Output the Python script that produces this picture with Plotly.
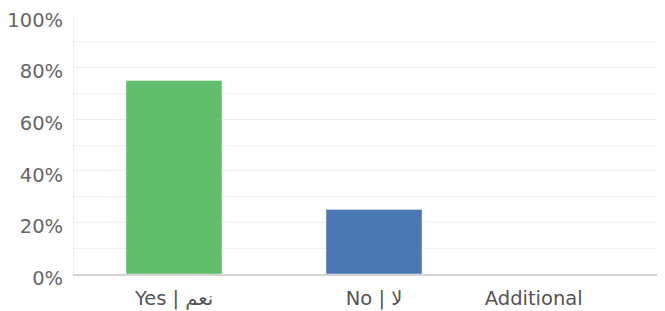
import plotly.graph_objects as go

categories = ["Yes | نعم", "No | لا", "Additional" + "\u00a0" * 13]
values = [75, 25, 0]
bar_colors = ["#62be6c", "#4b78b4", "#4b78b4"]
y_ticks = [0, 20, 40, 60, 80, 100]
y_tick_labels = ["0%", "20%", "40%", "60%", "80%", "100%"]

fig = go.Figure(
    go.Bar(
        x=categories,
        y=values,
        marker=dict(color=bar_colors, line=dict(color="rgba(255,255,255,0.4)", width=1)),
        width=0.48,
    )
)

# page body adds an 8px offset, so figure is sized to fit the 665x311 window
fig.update_layout(
    width=657,
    height=303,
    margin=dict(l=66, r=3, t=8, b=37),
    paper_bgcolor="white",
    plot_bgcolor="white",
    showlegend=False,
    font=dict(family="DejaVu Sans, sans-serif", size=19.5, color="#666666"),
)
fig.update_yaxes(
    range=[0, 100],
    tickvals=y_ticks,
    ticktext=y_tick_labels,
    automargin=False,
    showgrid=True,
    gridcolor="#eeeeee",
    gridwidth=1,
    minor=dict(dtick=10, showgrid=True, gridcolor="#f2f2f2"),
    showline=True,
    linecolor="#eeeeee",
    zeroline=False,
    ticks="",
    ticklabelstandoff=6,
    ticklabelshift=4,
    tickfont=dict(size=19.5, color="#666666"),
)
fig.update_xaxes(
    range=[-0.5, 2.44],
    automargin=False,
    showline=True,
    linecolor="#d4d4d4",
    linewidth=2,
    showgrid=False,
    ticks="",
    ticklabelstandoff=6,
    tickfont=dict(size=19.5, color="#555555"),
)

fig.write_html("out.html")
